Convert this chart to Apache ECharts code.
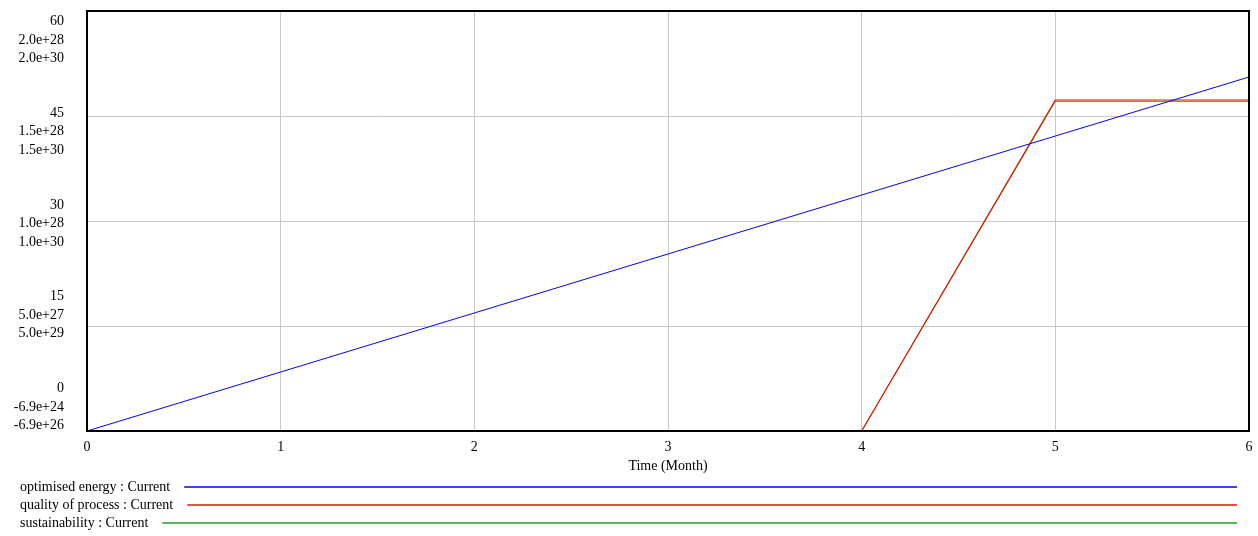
<!DOCTYPE html>
<html>
<head>
<meta charset="utf-8">
<script src="https://cdn.jsdelivr.net/npm/echarts@6/dist/echarts.min.js"></script>
<style>html,body{margin:0;padding:0;background:#fff}#c{width:1258px;height:536px}</style>
</head>
<body>
<div id="c"></div>
<script>
var months = [0, 1, 2, 3, 4, 5, 6];
var optimisedEnergy = [0, 8.43, 16.86, 25.29, 33.71, 42.14, 50.57];
var qualityOfProcess = [-6.9e24, -6.9e24, -6.9e24, -6.9e24, -6.9e24, 1.576e28, 1.576e28];
var sustainability = [-6.9e26, -6.9e26, -6.9e26, -6.9e26, -6.9e26, 1.5698e30, 1.5698e30];
var axis1Labels = ['0', '15', '30', '45', '60'];
var axis2Labels = ['-6.9e+24', '5.0e+27', '1.0e+28', '1.5e+28', '2.0e+28'];
var axis3Labels = ['-6.9e+26', '5.0e+29', '1.0e+30', '1.5e+30', '2.0e+30'];
var legendNames = ['optimised energy : Current', 'quality of process : Current', 'sustainability : Current'];
var colors = ['#0000ff', '#ee1100', '#1e9e1e'];

function pairs(v) { return months.map(function (m, i) { return [m, v[i]]; }); }

var FONT = 'Liberation Serif';
var FS = 14;
var chart = echarts.init(document.getElementById('c'));

var option = {
  animation: false,
  textStyle: { fontFamily: FONT },
  grid: [
    { left: 87, right: 9, top: 11, bottom: 105, show: true, borderColor: '#000', borderWidth: 2, backgroundColor: 'transparent', z: 5 },
    { left: 87, right: 9, top: 40, bottom: 129, show: false }
  ],
  xAxis: [
    {
      type: 'value', gridIndex: 0, min: 0, max: 6, interval: 1,
      axisLine: { show: false }, axisTick: { show: false },
      splitLine: { show: true, lineStyle: { color: '#c8c8c8', width: 1 } },
      axisLabel: { color: '#000', fontSize: FS, fontFamily: FONT, margin: 9 },
      name: 'Time (Month)', nameLocation: 'middle', nameGap: 25,
      nameTextStyle: { color: '#000', fontSize: FS, fontFamily: FONT }
    },
    { type: 'value', gridIndex: 1, min: 0, max: 6, show: false }
  ],
  yAxis: [
    {
      type: 'value', gridIndex: 0, min: 0, max: 60, interval: 15,
      axisLine: { show: false }, axisTick: { show: false }, axisLabel: { show: false },
      splitLine: { show: true, lineStyle: { color: '#c8c8c8', width: 1 } }
    },
    { type: 'value', gridIndex: 0, min: -6.9e24, max: 2.0e28, show: false, splitLine: { show: false } },
    { type: 'value', gridIndex: 0, min: -6.9e26, max: 2.0e30, show: false, splitLine: { show: false } },
    {
      type: 'value', gridIndex: 1, min: 0, max: 4, interval: 1,
      axisLine: { show: false }, axisTick: { show: false }, splitLine: { show: false },
      axisLabel: {
        color: '#000', fontSize: FS, fontFamily: FONT, margin: 23, lineHeight: 18.5, align: 'right',
        formatter: function (v) {
          var i = Math.round(v);
          return axis1Labels[i] + '\n' + axis2Labels[i] + '\n' + axis3Labels[i];
        }
      }
    }
  ],
  series: [
    {
      name: 'sustainability', type: 'line', xAxisIndex: 0, yAxisIndex: 2, data: pairs(sustainability),
      showSymbol: false, lineStyle: { color: colors[2], width: 1 }, z: 2
    },
    {
      name: 'quality of process', type: 'line', xAxisIndex: 0, yAxisIndex: 1, data: pairs(qualityOfProcess),
      showSymbol: false, lineStyle: { color: colors[1], width: 1.2 }, z: 3
    },
    {
      name: 'optimised energy', type: 'line', xAxisIndex: 0, yAxisIndex: 0, data: pairs(optimisedEnergy),
      showSymbol: false, lineStyle: { color: colors[0], width: 1 }, z: 4
    },
    { type: 'line', xAxisIndex: 1, yAxisIndex: 3, data: [], silent: true }
  ]
};
chart.setOption(option);

var legendGraphics = [];
legendNames.forEach(function (n, i) {
  var y = 487 + i * 18;
  legendGraphics.push({
    type: 'text', left: 20, top: y - 7,
    style: { text: n, font: FS + 'px "' + FONT + '"', fill: '#000' }
  });
});
legendNames.forEach(function (n, i) {
  var y = 487 + i * 18;
  var t = new echarts.graphic.Text({ style: { text: n, font: FS + 'px "' + FONT + '"' } });
  var rect = t.getBoundingRect();
  legendGraphics.push({
    type: 'line', silent: true,
    shape: { x1: 20 + rect.width + 14, y1: y, x2: 1237, y2: y },
    style: { stroke: colors[i], lineWidth: 1.5 }
  });
});
chart.setOption({ graphic: legendGraphics });
</script>
</body>
</html>
